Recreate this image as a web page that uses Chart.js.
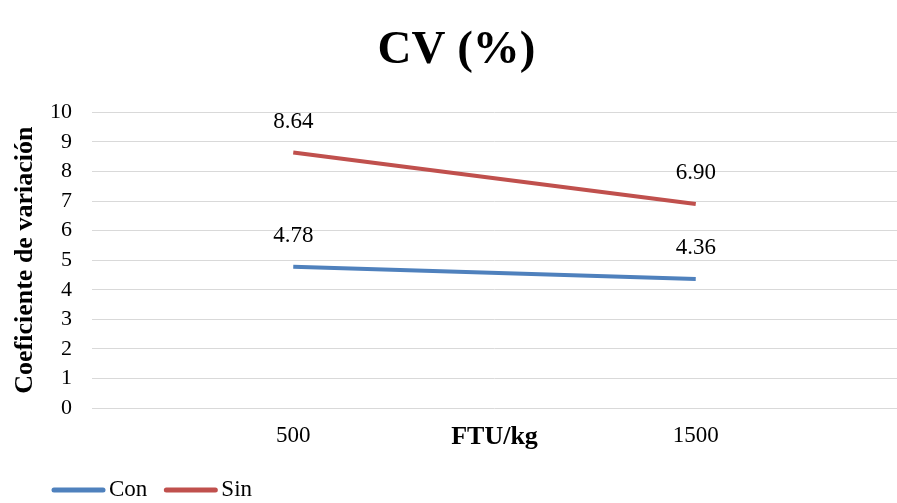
<!DOCTYPE html>
<html>
<head>
<meta charset="utf-8">
<script src="https://cdn.jsdelivr.net/npm/chart.js@4"></script>
<style>
  html, body { margin: 0; padding: 0; background: #fff; overflow: hidden; }
  #wrap { width: 897px; height: 503px; }
</style>
</head>
<body>
<div id="wrap"><canvas id="chart"></canvas></div>
<script>
// x categories (blank slots keep the 500 / 1500 points where Excel put them)
const categories = ['', '500', 'FTU/kg', '1500', ''];
const conValues = [null, 4.78, null, 4.36, null];
const sinValues = [null, 8.64, null, 6.90, null];
const yMin = 0;
const yMax = 10;
const yStep = 1;

const serif = "'Liberation Serif', 'Times New Roman', serif";

// draws the value above every point
const valueLabels = {
  id: 'valueLabels',
  afterDatasetsDraw(chart) {
    const ctx = chart.ctx;
    ctx.save();
    ctx.font = '23px ' + serif;
    ctx.fillStyle = '#000';
    ctx.textAlign = 'center';
    ctx.textBaseline = 'middle';
    chart.data.datasets.forEach((ds, i) => {
      chart.getDatasetMeta(i).data.forEach((pt, j) => {
        if (ds.data[j] == null) return;
        ctx.fillText(ds.data[j].toFixed(2), pt.x, pt.y - 31);
      });
    });
    ctx.restore();
  }
};

// Excel style legend: long line then the name, tight together
const lineLegend = {
  id: 'lineLegend',
  afterDraw(chart) {
    const ctx = chart.ctx;
    let x = 52;
    const y = 490;
    ctx.save();
    ctx.font = '23px ' + serif;
    ctx.textBaseline = 'middle';
    ctx.lineCap = 'round';
    chart.data.datasets.forEach((ds) => {
      ctx.strokeStyle = ds.borderColor;
      ctx.lineWidth = 5;
      ctx.beginPath();
      ctx.moveTo(x + 2, y);
      ctx.lineTo(x + 51, y);
      ctx.stroke();
      x += 57;
      ctx.fillStyle = '#000';
      ctx.fillText(ds.label, x, y);
      x += ctx.measureText(ds.label).width + 17;
    });
    ctx.restore();
  }
};

new Chart(document.getElementById('chart'), {
  type: 'line',
  data: {
    labels: categories,
    datasets: [
      {
        label: 'Con',
        data: conValues,
        borderColor: '#4F81BD',
        backgroundColor: '#4F81BD',
        borderWidth: 4,
        pointRadius: 0,
        spanGaps: true,
      },
      {
        label: 'Sin',
        data: sinValues,
        borderColor: '#C0504D',
        backgroundColor: '#C0504D',
        borderWidth: 4,
        pointRadius: 0,
        spanGaps: true,
      },
    ],
  },
  options: {
    responsive: true,
    maintainAspectRatio: false,
    animation: false,
    layout: { padding: { left: 4, right: -12, top: 0, bottom: 50 } },
    plugins: {
      title: {
        display: true,
        text: 'CV (%)',
        color: '#000',
        font: { family: serif, size: 47, weight: 'bold' },
        padding: { top: 23, bottom: 33 },
      },
      legend: { display: false },
      tooltip: { enabled: false },
    },
    scales: {
      x: {
        offset: false,
        grid: { display: false, drawTicks: false },
        border: { display: false },
        afterFit: (axis) => {
          axis.height = 45;
          axis.paddingLeft = 0;
          axis.paddingRight = 0;
        },
        ticks: {
          color: '#000',
          padding: 14,
          maxRotation: 0,
          autoSkip: false,
          font: (c) => c.index === 2
            ? { family: serif, size: 26, weight: 'bold' }
            : { family: serif, size: 23 },
        },
      },
      y: {
        min: yMin,
        max: yMax,
        afterFit: (axis) => { axis.width = 88; },
        grid: { color: '#d9d9d9', lineWidth: 1, drawTicks: false },
        border: { display: false },
        ticks: {
          stepSize: yStep,
          autoSkip: false,
          color: '#000',
          padding: 20,
          font: { family: serif, size: 22 },
        },
        title: {
          display: true,
          text: 'Coeficiente de variación',
          color: '#000',
          font: { family: serif, size: 26, weight: 'bold' },
          padding: { top: 6, bottom: 8 },
        },
      },
    },
  },
  plugins: [valueLabels, lineLegend],
});
</script>
</body>
</html>
